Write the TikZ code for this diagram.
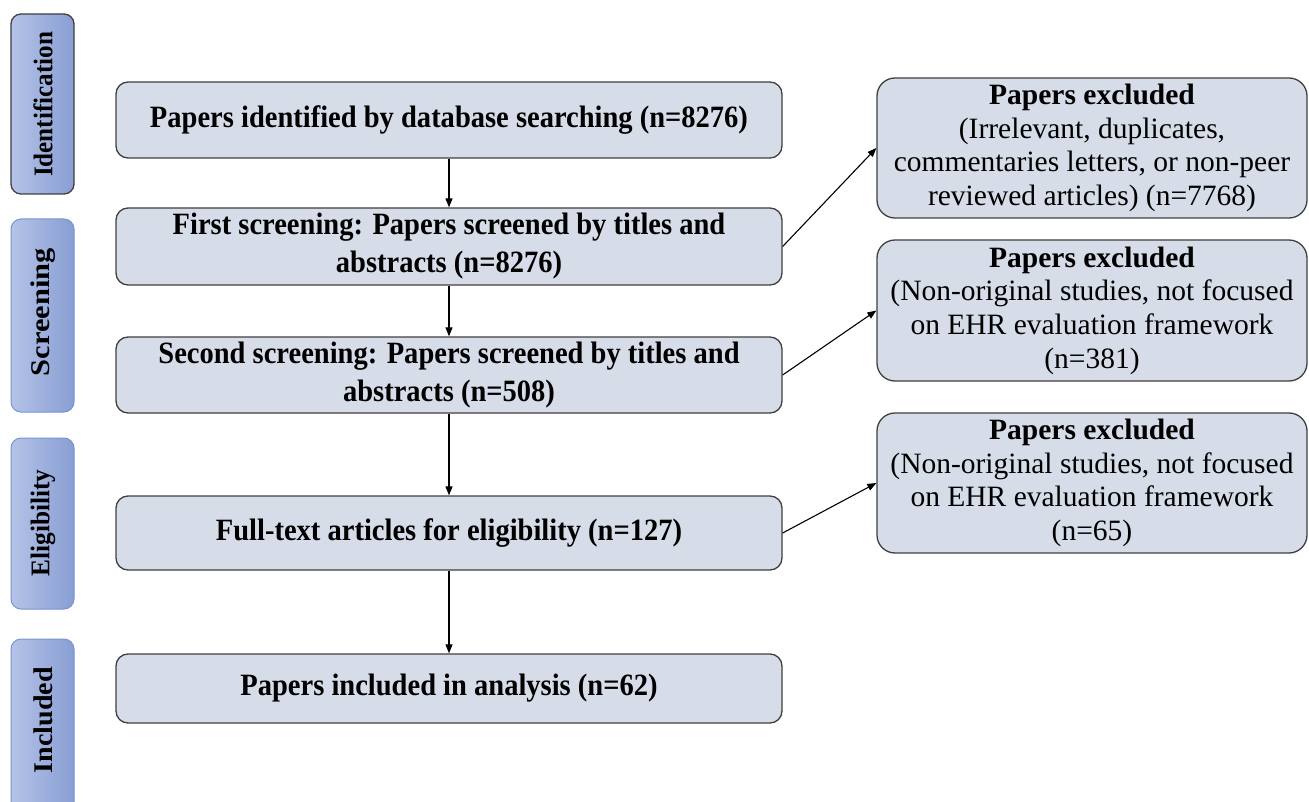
\documentclass[tikz,border=0pt]{standalone}
\usepackage{fontspec}
\setmainfont{Liberation Serif}
\newfontfamily\condserif{Liberation Serif}[FakeStretch=0.92]
\usepackage{graphicx}
\usetikzlibrary{arrows.meta}
\definecolor{boxfill}{RGB}{214,221,232}
\definecolor{boxline}{RGB}{64,64,64}
\definecolor{stageL}{RGB}{180,195,231}
\definecolor{stageR}{RGB}{136,158,211}
\definecolor{stageB}{RGB}{120,148,210}
\tikzset{
  mainbox/.style={draw=boxline, line width=1.3pt, fill=boxfill, rounded corners=12pt,
    minimum width=666pt, inner sep=0pt, align=center,
    font=\condserif\fontsize{31}{38}\selectfont\bfseries},
  exclbox/.style={draw=boxline, line width=1.3pt, fill=boxfill, rounded corners=18pt,
    minimum width=430pt, minimum height=140pt, inner sep=0pt, align=center,
    font=\fontsize{29.5}{33.7}\selectfont},
  stagebox/.style={draw=stageB, line width=1pt, left color=stageL, right color=stageR,
    rounded corners=10pt, minimum width=63pt, inner sep=0pt},
  stagetext/.style={rotate=90, inner sep=0pt, font=\fontsize{27}{27}\selectfont\bfseries},
  conn/.style={draw=black, line width=1.1pt, -{Triangle[length=9pt,width=7pt]}}
}
\begin{document}
\begin{tikzpicture}[x=1pt,y=-1pt]
\useasboundingbox (0,0) rectangle (1309,802);
\clip (0,0) rectangle (1309,802);
\fill[white] (0,0) rectangle (1309,802);

% stage boxes
\node[stagebox, draw=boxline, line width=1.3pt, minimum height=180pt] (s1) at (42.5,104) {};
\node[stagebox, minimum height=193pt] (s2) at (42.5,315.5) {};
\node[stagebox, minimum height=171pt] (s3) at (42.5,523.5) {};
\node[stagebox, minimum height=176pt] (s4) at (42.5,727) {};
\node[stagetext] (t1) at (43,104.5) {\resizebox{145pt}{\height}{Identification}};
\node[stagetext] (t2) at (43,312) {\resizebox{128pt}{\height}{Screening}};
\node[stagetext] (t3) at (43,523) {\resizebox{107pt}{\height}{Eligibility}};
\node[stagetext] (t4) at (43,720) {\resizebox{106pt}{\height}{Included}};

% main boxes
\node[mainbox, minimum height=76pt] (b1) at (449,120) {Papers identified by database searching (n=8276)};
\node[mainbox, minimum height=77pt] (b2) at (449,246.5) {First screening: Papers screened by titles and\\abstracts (n=8276)};
\node[mainbox, minimum height=76pt] (b3) at (449,375) {Second screening: Papers screened by titles and\\abstracts (n=508)};
\node[mainbox, minimum height=74pt] (b4) at (449,533) {Full-text articles for eligibility (n=127)};
\node[mainbox, minimum height=69pt] (b5) at (449,688.5) {Papers included in analysis (n=62)};

% excluded boxes
\node[exclbox] (r1) at (1092,148) {\textbf{Papers excluded}\\(Irrelevant, duplicates,\\commentaries letters, or non-peer\\reviewed articles) (n=7768)};
\node[exclbox, minimum height=141pt] (r2) at (1092,310.5) {\textbf{Papers excluded}\\(Non-original studies, not focused\\on EHR evaluation framework\\(n=381)};
\node[exclbox] (r3) at (1092,483) {\textbf{Papers excluded}\\(Non-original studies, not focused\\on EHR evaluation framework\\(n=65)};

% connectors
\draw[conn] (b1.south) -- (b2.north);
\draw[conn] (b2.south) -- (b3.north);
\draw[conn] (b3.south) -- (b4.north);
\draw[conn] (b4.south) -- (b5.north);
\draw[conn] (b2.east) -- (r1.west);
\draw[conn] (b3.east) -- (r2.west);
\draw[conn] (b4.east) -- (r3.west);
\end{tikzpicture}
\end{document}
